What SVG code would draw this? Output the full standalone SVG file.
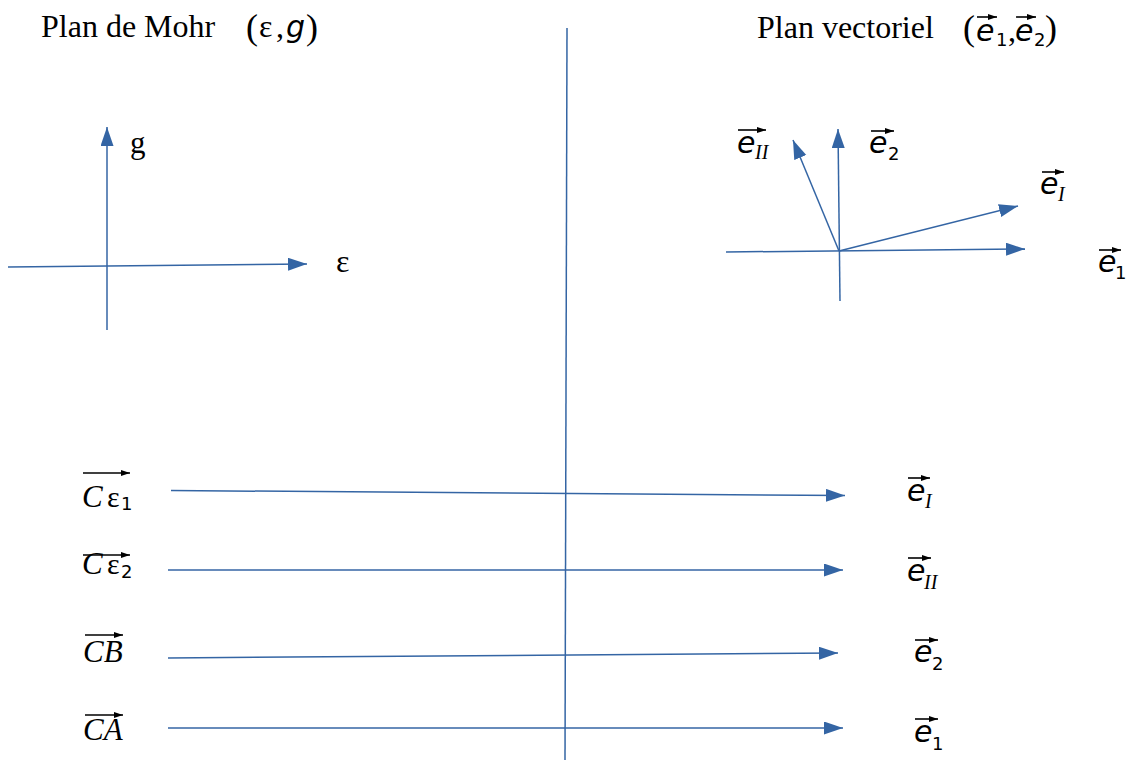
<svg xmlns="http://www.w3.org/2000/svg" width="1127" height="762" viewBox="0 0 1127 762">
<style>
.ln{stroke:#3465a4;stroke-width:1.5;fill:none}
.ar{marker-end:url(#ah)}
.va{stroke:#000;stroke-width:1.6;marker-end:url(#vh)}
.t{font-family:"Liberation Serif",serif;fill:#000}
.ti{font-family:"Liberation Serif",serif;font-style:italic;fill:#000}
.e{font-family:"DejaVu Sans",sans-serif;font-style:oblique;font-size:30px;fill:#000}
.s{font-family:"DejaVu Sans",sans-serif;font-size:18px;fill:#000}
.si{font-family:"Liberation Serif",serif;font-style:italic;font-size:20px;fill:#000}
</style>
<defs>
<marker id="ah" markerUnits="userSpaceOnUse" markerWidth="20" markerHeight="14" refX="19" refY="6.5" orient="auto">
<path d="M0,0 L19,6.5 L0,13 z" fill="#3465a4"/>
</marker>
<marker id="vh" markerUnits="userSpaceOnUse" markerWidth="10" markerHeight="8" refX="9" refY="3" orient="auto">
<path d="M0,0 L9,3 L0,6 z" fill="#000"/>
</marker>
</defs>

<g id="titles">
<text class="t" x="41" y="37" font-size="32">Plan de Mohr</text>
<text class="t" x="246" y="39" font-size="36">(</text>
<text class="t" x="259" y="37" font-size="32">ε</text>
<text class="t" x="276" y="37" font-size="32">,</text>
<text class="e" x="286" y="37" font-size="30">g</text>
<text class="t" x="306" y="39" font-size="36">)</text>

<text class="t" x="757" y="38" font-size="32">Plan vectoriel</text>
<text class="t" x="963" y="40" font-size="36">(</text>
<text class="e" x="976" y="41">e</text>
<line class="va" x1="977" y1="17" x2="997" y2="17"/>
<text class="s" x="996" y="46" font-size="16">1</text>
<text class="t" x="1008" y="41" font-size="32">,</text>
<text class="e" x="1015" y="41">e</text>
<line class="va" x1="1016" y1="17" x2="1036" y2="17"/>
<text class="s" x="1034" y="46" font-size="16">2</text>
<text class="t" x="1045" y="40" font-size="36">)</text>
</g>

<g id="connectors">
<line class="ln" x1="567" y1="28" x2="565" y2="760"/>
<line class="ln ar" x1="107" y1="330" x2="107" y2="127"/>
<line class="ln ar" x1="8" y1="267" x2="307" y2="264"/>
<line class="ln ar" x1="726" y1="252" x2="1025" y2="249"/>
<line class="ln ar" x1="840" y1="301" x2="838" y2="129"/>
<line class="ln ar" x1="839" y1="251" x2="793" y2="140"/>
<line class="ln ar" x1="839" y1="251" x2="1018" y2="206"/>
<line class="ln ar" x1="171" y1="490.5" x2="845" y2="495.5"/>
<line class="ln ar" x1="168" y1="570" x2="843" y2="570"/>
<line class="ln ar" x1="168" y1="658" x2="838" y2="653"/>
<line class="ln ar" x1="168" y1="728" x2="843" y2="728"/>
</g>

<g id="mohr-axes-labels">
<text class="t" x="130" y="153" font-size="31">g</text>
<text class="t" x="336" y="272" font-size="32">ε</text>
</g>

<g id="label-eII-top">
<text class="e" x="737" y="153">e</text>
<text class="si" x="755" y="159">II</text>
<line class="va" x1="738" y1="130" x2="766" y2="130"/>
</g>
<g id="label-e2-top">
<text class="e" x="869" y="153">e</text>
<text class="s" x="888" y="160">2</text>
<line class="va" x1="871" y1="131" x2="894" y2="131"/>
</g>
<g id="label-eI-top">
<text class="e" x="1040" y="194">e</text>
<text class="si" x="1058" y="201">I</text>
<line class="va" x1="1042" y1="172" x2="1064" y2="172"/>
</g>
<g id="label-e1-top">
<text class="e" x="1098" y="272">e</text>
<text class="s" x="1115" y="279" font-size="16">1</text>
<line class="va" x1="1099" y1="250" x2="1121" y2="250"/>
</g>

<g id="label-Ceps1">
<text class="ti" x="82" y="507" font-size="31">C</text>
<text class="t" x="107" y="507" font-size="30">ε</text>
<text class="s" x="121" y="510">1</text>
<line class="va" x1="83" y1="473" x2="130" y2="473"/>
</g>
<g id="label-Ceps2">
<text class="ti" x="82" y="574" font-size="31">C</text>
<text class="t" x="107" y="574" font-size="30">ε</text>
<text class="s" x="121" y="578">2</text>
<line class="va" x1="83" y1="555" x2="130" y2="555"/>
</g>
<g id="label-CB">
<text class="ti" x="83" y="662" font-size="31">CB</text>
<line class="va" x1="85" y1="635" x2="123" y2="635"/>
</g>
<g id="label-CA">
<text class="ti" x="83" y="740" font-size="31">CA</text>
<line class="va" x1="85" y1="715" x2="123" y2="715"/>
</g>

<g id="label-eI">
<text class="e" x="907" y="501">e</text>
<text class="si" x="925" y="508">I</text>
<line class="va" x1="908" y1="478" x2="930" y2="478"/>
</g>
<g id="label-eII">
<text class="e" x="907" y="581">e</text>
<text class="si" x="924" y="589">II</text>
<line class="va" x1="908" y1="558" x2="931" y2="558"/>
</g>
<g id="label-e2">
<text class="e" x="914" y="662">e</text>
<text class="s" x="932" y="670">2</text>
<line class="va" x1="915" y1="640" x2="938" y2="640"/>
</g>
<g id="label-e1">
<text class="e" x="914" y="742">e</text>
<text class="s" x="932" y="750">1</text>
<line class="va" x1="915" y1="719" x2="938" y2="719"/>
</g>
</svg>
